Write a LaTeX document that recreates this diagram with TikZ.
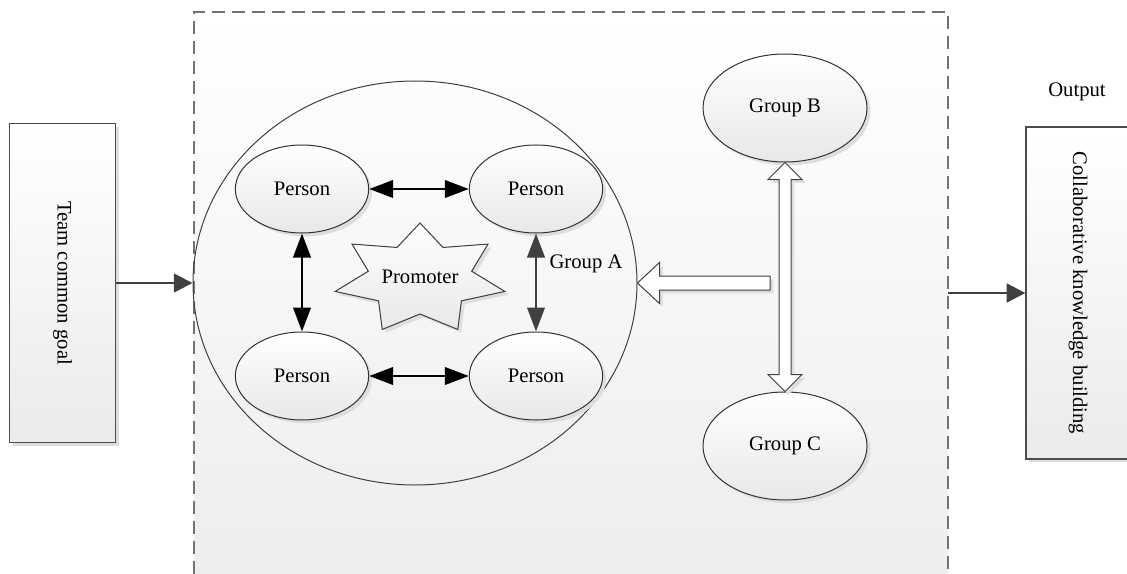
\documentclass[tikz,border=0pt]{standalone}
\usepackage{fontspec}
\setmainfont{Liberation Serif}
\usetikzlibrary{shapes.geometric,arrows.meta,shadows,calc}

\begin{document}
\begin{tikzpicture}[x=0.75pt,y=-0.75pt,font=\fontsize{15.5}{18}\selectfont,
    softshadow/.style={drop shadow={shadow xshift=2.5pt,shadow yshift=-2.5pt,fill=black!13,opacity=1}},
    sidebox/.style={rectangle,draw=black!70,line width=0.9pt,top color=white,bottom color=black!8,softshadow},
    person/.style={ellipse,draw=black!80,line width=0.75pt,top color=white,bottom color=black!9,
        minimum width=100pt,minimum height=66pt,softshadow},
    group/.style={person,minimum width=123pt,minimum height=81pt},
    talk/.style={line width=2.2pt,{Triangle[length=18pt,width=13pt]}-{Triangle[length=18pt,width=13pt]}},
    flow/.style={line width=2pt,draw=black!75,-{Triangle[length=14pt,width=14pt]}},
    hollow/.style={draw=black!75,line width=0.75pt,fill=white,softshadow},
    frame/.style={draw=black!55,line width=1.1pt,dash pattern=on 10pt off 5pt}]
    \useasboundingbox (0,0) rectangle (1127,574);
    % dashed frame around the groups
    \fill[top color=white,bottom color=black!7] (194,12) rectangle (948,574);
    \draw[frame] (194,574) -- (194,12) -- (948,12) -- (948,574);
    % input and output
    \node[sidebox,minimum width=80pt,minimum height=239pt] (GoalBox) at (62.5,283) {};
    \node[rotate=-90] (GoalText) at (GoalBox.center) {Team common goal};
    \node[sidebox,minimum width=78pt,minimum height=249pt] (OutputBox) at (1078,293) {};
    \node[rotate=-90] (OutputText) at (OutputBox.center) {Collaborative knowledge building};
    \node (OutputLabel) at (1077,92) {Output};
    % group A with its members
    \node[ellipse,draw=black!75,line width=0.75pt,minimum width=333pt,minimum height=303pt] (GroupA) at (415,283) {};
    \node (GroupALabel) at (586,264) {Group A};
    \node[person] (PersonTL) at (302,189) {Person};
    \node[person] (PersonTR) at (536,189) {Person};
    \node[person] (PersonBL) at (302,376) {Person};
    \node[person] (PersonBR) at (536,376) {Person};
    \filldraw[draw=black!75,line width=0.75pt,top color=white,bottom color=black!9,softshadow,shift={(420,279)}]
        (-90:87 and 56) \foreach \k in {0,...,6} {
            -- (-90+\k*360/7+180/7:53 and 35) -- (-90+\k*360/7+360/7:87 and 56)} -- cycle;
    \node (Promoter) at (420,277) {Promoter};
    \draw[talk] (PersonTL) -- (PersonTR);
    \draw[talk] (PersonBL) -- (PersonBR);
    \draw[talk] (PersonTL) -- (PersonBL);
    \draw[talk,black!75] (PersonTR) -- (PersonBR);
    % other groups
    \node[group] (GroupB) at (785,108) {Group B};
    \node[group] (GroupC) at (785,446) {Group C};
    \filldraw[hollow] (GroupB.south) -- ++(17,17) -- ++(-11,0) -- ($(GroupC.north)+(6,-17)$) -- ++(11,0)
        -- (GroupC.north) -- ++(-17,-17) -- ++(11,0) -- ($(GroupB.south)+(-6,17)$) -- ++(-11,0) -- cycle;
    \coordinate (HollowTail) at (770,283);
    \filldraw[hollow] (GroupA.east) -- ++(22,-20.5) -- ++(0,13.5) -- ($(HollowTail)+(0,-7)$) -- ++(0,14)
        -- ($(GroupA.east)+(22,7)$) -- ++(0,13.5) -- cycle;
    % in and out arrows
    \draw[flow] (GoalBox.east) -- (GroupA.west);
    \coordinate (FrameEast) at (948,293);
    \draw[flow] (FrameEast) -- (OutputBox.west);
\end{tikzpicture}
\end{document}
